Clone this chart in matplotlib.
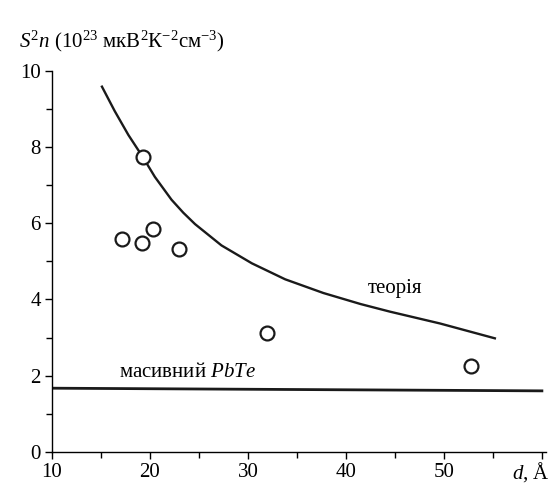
import matplotlib
matplotlib.use("Agg")
import matplotlib.pyplot as plt
from matplotlib.ticker import MultipleLocator

plt.rcParams['font.family'] = ['Liberation Serif', 'DejaVu Serif']
plt.rcParams['mathtext.fontset'] = 'custom'
plt.rcParams['mathtext.rm'] = 'Liberation Serif'
plt.rcParams['mathtext.it'] = 'Liberation Serif:italic'

# data
theory_d = [15.1, 16.4, 17.8, 19.3, 20.5, 22.2, 23.4, 24.6, 27.3, 30.4, 33.8, 37.7, 41.5, 44.5, 49.6, 55.2]
theory_s2n = [9.59, 8.95, 8.32, 7.73, 7.22, 6.62, 6.28, 5.98, 5.42, 4.95, 4.53, 4.17, 3.88, 3.68, 3.37, 2.98]
exp_d = [17.1, 19.2, 19.3, 20.3, 23.0, 31.9, 52.8]
exp_s2n = [5.58, 5.49, 7.73, 5.85, 5.32, 3.12, 2.24]
bulk_d = [10, 60]
bulk_s2n = [1.67, 1.60]
xticks = [10, 20, 30, 40, 50, 60]
xticklabels = ['10', '20', '30', '40', '50', '']
yticks = [0, 2, 4, 6, 8, 10]

fig = plt.figure(figsize=(5.53, 4.90), dpi=100)
ax = fig.add_axes([0.094, 0.078, 0.893, 0.777])

ax.plot(theory_d, theory_s2n, color='#1a1a1a', lw=1.7, zorder=2,
        solid_joinstyle='round')
ax.plot(bulk_d, bulk_s2n, color='#1a1a1a', lw=2.0, zorder=2)
ax.plot(exp_d, exp_s2n, 'o', ms=10, mfc='white', mec='#1a1a1a', mew=1.6, zorder=3)

ax.set_xlim(10, 60.4)
ax.set_ylim(0, 10)
ax.set_xticks(xticks)
ax.set_xticklabels(xticklabels)
ax.set_yticks(yticks)
ax.xaxis.set_minor_locator(MultipleLocator(5))
ax.yaxis.set_minor_locator(MultipleLocator(1))
ax.tick_params(axis='both', which='major', direction='out', length=5, width=1, labelsize=15, pad=3)
ax.tick_params(axis='both', which='minor', direction='out', length=4, width=1)
ax.spines['top'].set_visible(False)
ax.spines['right'].set_visible(False)
for s in ('left', 'bottom'):
    ax.spines[s].set_linewidth(1)

ax.text(45.0, 4.3, 'теорія', fontsize=15, ha='center', va='center')
ax.text(23.8, 2.09, 'масивний $\\it{PbTe}$', fontsize=15, ha='center', va='center')

fig.text(0.035, 0.915, '$S^2n$ (10$^{23}$ мкВ$^2$К$^{-2}$см$^{-3}$)', fontsize=15, ha='left', va='center')
fig.text(0.96, 0.036, '$d$, Å', fontsize=15, ha='center', va='center')

fig.savefig('out.png', dpi=100)
